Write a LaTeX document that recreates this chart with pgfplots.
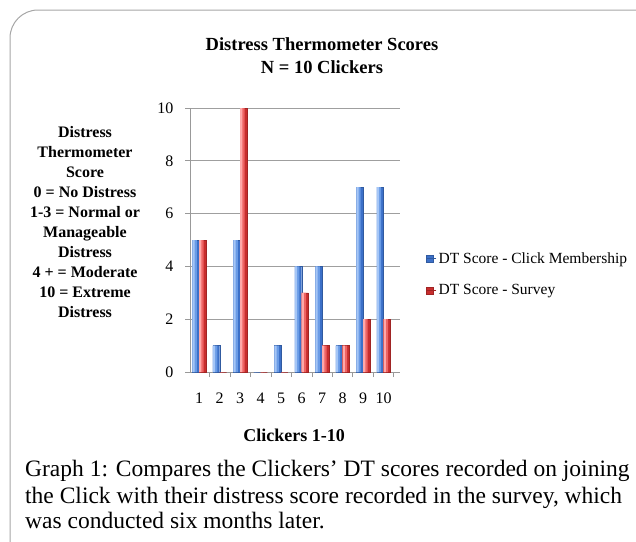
\documentclass[border=0pt]{standalone}
\usepackage{fontspec}
\setmainfont{Liberation Serif}
\usepackage{pgfplots}
\usepackage{pgfplotstable}
\pgfplotsset{compat=1.18}
\definecolor{blueA}{RGB}{60,112,200}
\definecolor{blueB}{RGB}{105,155,230}
\definecolor{blueC}{RGB}{165,198,246}
\definecolor{redA}{RGB}{200,45,45}
\definecolor{redB}{RGB}{238,100,100}
\definecolor{redC}{RGB}{255,168,168}
\pgfplotstableread{
x click survey
1 5 5
2 1 0
3 5 10
4 0 0
5 1 0
6 4 3
7 4 1
8 1 1
9 7 2
10 7 2
}\dtdata
\begin{document}
\begin{tikzpicture}[x=1pt,y=1pt]
\useasboundingbox (0,0) rectangle (636,-541);
\draw[gray!70, line width=1pt, rounded corners=28pt] (10,-10) rectangle (690,-590);
\node[font=\bfseries\fontsize{18.5}{23}\selectfont, align=center] at (322,-56) {Distress Thermometer Scores\\N = 10 Clickers};
\begin{axis}[
  at={(190pt,-372pt)}, anchor=south west, scale only axis,
  width=210pt, height=264pt,
  xmin=0.55, xmax=10.8, ymin=0, ymax=10,
  ybar,
  xtick={1,...,10}, ytick={0,2,...,10},
  minor xtick={1.5,2.5,...,10.5},
  major x tick style={draw=none},
  minor x tick style={gray!80, line width=0.8pt},
  minor tick length=5pt,
  y tick style={gray!80, line width=0.8pt},
  major tick length=5pt,
  tick align=outside,
  axis x line*=bottom, axis y line*=left,
  axis line style={gray!80, line width=0.8pt},
  ymajorgrids, grid style={gray!75, line width=0.9pt},
  tick label style={font=\fontsize{16}{18}\selectfont},
  /pgf/number format/assume math mode=true,
  yticklabel style={xshift=-8pt},
  xticklabel style={yshift=-12pt},
  legend style={at={(1.11,0.37)}, anchor=west, draw=none, fill=none,
    font=\fontsize{15.5}{17}\selectfont, row sep=16pt, cells={anchor=west}},
  legend image code/.code={\fill[#1] (0pt,-3.5pt) rectangle (7pt,3.5pt); \path (0pt,0pt) -- (10pt,0pt);},
]
\addplot[fill=blueA, draw=blueA!80!black, line width=0.3pt, bar width=6.8pt, bar shift=-3.4pt] table[x=x, y=click] {\dtdata};
\addplot[fill=redA, draw=redA!80!black, line width=0.3pt, bar width=6.8pt, bar shift=3.4pt] table[x=x, y=survey] {\dtdata};
\legend{DT Score - Click Membership, DT Score - Survey}
\addplot[forget plot, fill=blueB, draw=none, bar width=4.4pt, bar shift=-4.6pt] table[x=x, y=click] {\dtdata};
\addplot[forget plot, fill=blueC, draw=none, bar width=2.2pt, bar shift=-5.7pt] table[x=x, y=click] {\dtdata};
\addplot[forget plot, fill=redB, draw=none, bar width=4.4pt, bar shift=2.2pt] table[x=x, y=survey] {\dtdata};
\addplot[forget plot, fill=redC, draw=none, bar width=2.2pt, bar shift=1.1pt] table[x=x, y=survey] {\dtdata};
\end{axis}
\node[font=\bfseries\fontsize{16}{20}\selectfont, align=center] at (85,-222) {Distress\\Thermometer\\Score\\0 = No Distress\\1-3 = Normal or\\Manageable\\Distress\\4 + = Moderate\\10 = Extreme\\Distress};
\node[font=\bfseries\fontsize{18}{20}\selectfont] at (294,-435) {Clickers 1-10};
\node[anchor=base west, font=\fontsize{23.5}{27}\selectfont, inner sep=0pt] at (25,-476) {Graph 1: Compares the Clickers’ DT scores recorded on joining};
\node[anchor=base west, font=\fontsize{23.5}{27}\selectfont, inner sep=0pt] at (25,-503) {the Click with their distress score recorded in the survey, which};
\node[anchor=base west, font=\fontsize{23.5}{27}\selectfont, inner sep=0pt] at (25,-528) {was conducted six months later.};
\end{tikzpicture}
\end{document}
